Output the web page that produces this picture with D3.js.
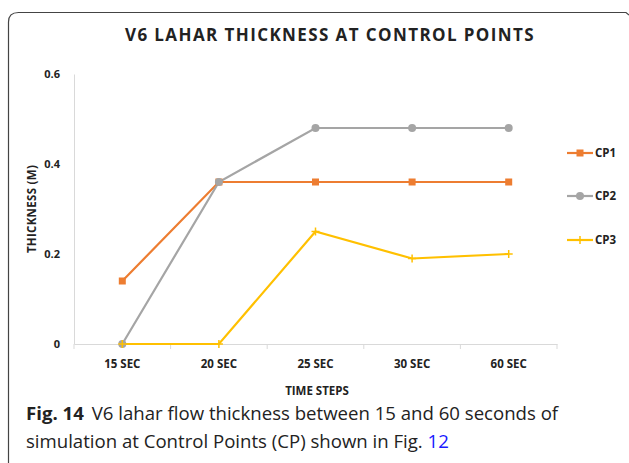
<!DOCTYPE html>
<html>
<head>
<meta charset="utf-8">
<script src="https://cdn.jsdelivr.net/npm/d3@7"></script>
<style>
  body { margin: 0; background: #fff; }
  svg { display: block; }
</style>
</head>
<body>
<svg id="chart" width="629" height="463"></svg>
<script>
// categories and series
var steps = ["15 SEC", "20 SEC", "25 SEC", "30 SEC", "60 SEC"];
var cp1 = [0.14, 0.36, 0.36, 0.36, 0.36];
var cp2 = [0, 0.36, 0.48, 0.48, 0.48];
var cp3 = [0, 0, 0.25, 0.19, 0.2];
var yTicks = [0, 0.2, 0.4, 0.6];
var seriesNames = ["CP1", "CP2", "CP3"];

var colors = { CP1: "#ED7D31", CP2: "#A5A5A5", CP3: "#FFC000" };
var series = [
    { name: "CP1", values: cp1 },
    { name: "CP2", values: cp2 },
    { name: "CP3", values: cp3 }
];

var font = "'Open Sans', sans-serif";
var svg = d3.select("#chart");

// frame around the figure
svg.append("path")
    .attr("d", "M8.5,470 L8.5,22 Q8.5,12.5 18.5,12.5 L626,12.5 L629,15")
    .attr("fill", "none")
    .attr("stroke", "#444")
    .attr("stroke-width", 1.2);

var x = d3.scaleBand().domain(steps).range([74, 557]);
var y = d3.scaleLinear().domain([0, 0.6]).range([344, 74]);
var cx = (d) => x(d) + x.bandwidth() / 2;

// title
svg.append("text")
    .attr("x", 330).attr("y", 41)
    .attr("text-anchor", "middle")
    .attr("font-family", font)
    .attr("font-weight", "bold")
    .attr("font-size", 17)
    .attr("letter-spacing", 1.4)
    .attr("fill", "#222")
    .text("V6 LAHAR THICKNESS AT CONTROL POINTS");

// y axis
var yAxis = svg.append("g")
    .attr("transform", "translate(74,0)")
    .call(d3.axisLeft(y).tickValues(yTicks).tickSize(0).tickPadding(14)
        .tickFormat((d) => d === 0 ? "0" : d3.format(".1f")(d)));
yAxis.select(".domain").attr("stroke", "#d9d9d9");
yAxis.selectAll("text")
    .attr("font-family", font)
    .attr("font-weight", "bold")
    .attr("font-size", 11)
    .attr("fill", "#222");

// x axis
var xAxis = svg.append("g")
    .attr("transform", "translate(0," + y(0) + ")")
    .call(d3.axisBottom(x).tickSize(0).tickPadding(16));
xAxis.select(".domain").attr("stroke", "#d9d9d9");
xAxis.selectAll("text")
    .attr("font-family", font)
    .attr("font-weight", "bold")
    .attr("font-size", 11.5)
    .attr("fill", "#222");
// band tick marks
xAxis.selectAll(".band-tick")
    .data(steps.concat(["end"]))
    .enter()
    .append("line")
    .attr("x1", (d, i) => 74 + i * x.bandwidth())
    .attr("x2", (d, i) => 74 + i * x.bandwidth())
    .attr("y1", 0).attr("y2", 5)
    .attr("stroke", "#d9d9d9");

// axis titles
svg.append("text")
    .attr("x", 317).attr("y", 395)
    .attr("text-anchor", "middle")
    .attr("font-family", font)
    .attr("font-weight", "bold")
    .attr("font-size", 11.5)
    .attr("fill", "#222")
    .text("TIME STEPS");

svg.append("text")
    .attr("transform", "translate(36,209) rotate(-90)")
    .attr("text-anchor", "middle")
    .attr("font-family", font)
    .attr("font-weight", "bold")
    .attr("font-size", 11.5)
    .attr("letter-spacing", 0.3)
    .attr("fill", "#222")
    .text("THICKNESS (M)");

// lines
var line = d3.line()
    .x((d, i) => cx(steps[i]))
    .y((d) => y(d));

svg.selectAll(".series")
    .data(series)
    .enter()
    .append("path")
    .attr("class", "series")
    .attr("d", (d) => line(d.values))
    .attr("fill", "none")
    .attr("stroke", (d) => colors[d.name])
    .attr("stroke-width", 2.2);

function drawMarker(g, name, px, py) {
    if (name === "CP1") {
        g.append("rect")
            .attr("x", px - 3.5).attr("y", py - 3.5)
            .attr("width", 7).attr("height", 7)
            .attr("fill", colors[name]);
    } else if (name === "CP2") {
        g.append("circle")
            .attr("cx", px).attr("cy", py).attr("r", 4)
            .attr("fill", colors[name]);
    } else {
        g.append("line")
            .attr("x1", px).attr("x2", px)
            .attr("y1", py - 4).attr("y2", py + 4)
            .attr("stroke", colors[name]).attr("stroke-width", 1.5);
        g.append("line")
            .attr("x1", px - 4).attr("x2", px + 4)
            .attr("y1", py).attr("y2", py)
            .attr("stroke", colors[name]).attr("stroke-width", 1.5);
    }
}

var markers = svg.append("g");
series.forEach(function (s) {
    s.values.forEach(function (v, i) {
        drawMarker(markers, s.name, cx(steps[i]), y(v));
    });
});

// legend
var legendY = [153, 196, 240];
var legend = svg.append("g");
seriesNames.forEach(function (name, i) {
    legend.append("line")
        .attr("x1", 567).attr("x2", 593)
        .attr("y1", legendY[i]).attr("y2", legendY[i])
        .attr("stroke", colors[name]).attr("stroke-width", 2.2);
    drawMarker(legend, name, 580, legendY[i]);
    legend.append("text")
        .attr("x", 595).attr("y", legendY[i] + 4)
        .attr("font-family", font)
        .attr("font-weight", "bold")
        .attr("font-size", 11.5)
        .attr("fill", "#222")
        .text(name);
});

// caption
var cap = svg.append("text")
    .attr("x", 26).attr("y", 420)
    .attr("font-family", font)
    .attr("font-size", 18.6)
    .attr("fill", "#222");
cap.append("tspan").attr("font-weight", "bold").text("Fig. 14");
cap.append("tspan").attr("dx", 8).text("V6 lahar flow thickness between 15 and 60 seconds of");

var cap2 = svg.append("text")
    .attr("x", 26).attr("y", 448)
    .attr("font-family", font)
    .attr("font-size", 18.6)
    .attr("fill", "#222");
cap2.append("tspan").text("simulation at Control Points (CP) shown in Fig. ");
cap2.append("tspan").attr("fill", "#1a1aff").text("12");
</script>
</body>
</html>
